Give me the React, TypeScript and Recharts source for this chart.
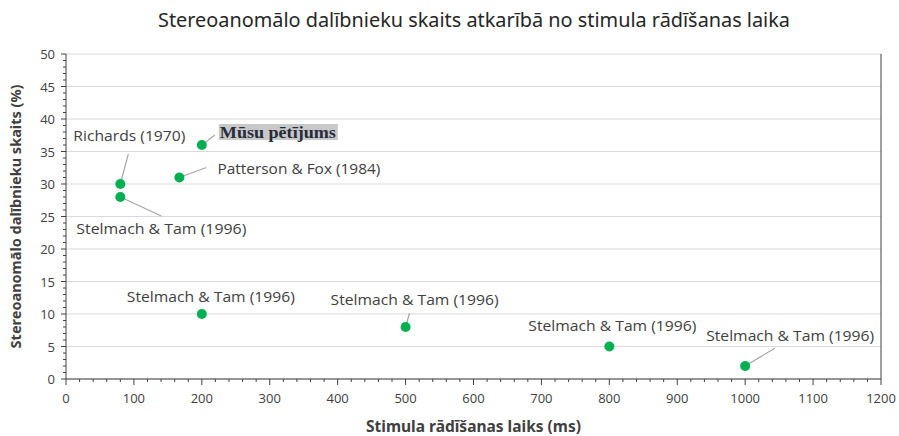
import React from "react";
import {
	ScatterChart,
	Scatter,
	XAxis,
	YAxis,
	ReferenceLine,
	Label,
} from "recharts";

const durations = [80, 80, 167, 200, 200, 500, 800, 1000];
const shares = [30, 28, 31, 36, 10, 8, 5, 2];
const studies = [
	"Richards (1970)",
	"Stelmach & Tam (1996)",
	"Patterson & Fox (1984)",
	"Mūsu pētījums",
	"Stelmach & Tam (1996)",
	"Stelmach & Tam (1996)",
	"Stelmach & Tam (1996)",
	"Stelmach & Tam (1996)",
];

const xMajor = [0, 100, 200, 300, 400, 500, 600, 700, 800, 900, 1000, 1100, 1200];
const yMajor = [0, 5, 10, 15, 20, 25, 30, 35, 40, 45, 50];
const xTicks = Array.from({ length: 61 }, (_, i) => i * 20);
const yTicks = Array.from({ length: 51 }, (_, i) => i);

// label placement relative to each point: text offset, text width, leader line end (null = no leader)
const labelLayout: { dx: number; dy: number; w: number; lead: [number, number] | null }[] = [
	{ dx: -47, dy: -48, w: 112, lead: [8, -30] },
	{ dx: -44, dy: 32, w: 170, lead: [41, 19] },
	{ dx: 38, dy: -9, w: 163, lead: [27, -10] },
	{ dx: 17, dy: -13, w: 116, lead: [13, -10] },
	{ dx: -75, dy: -17, w: 168, lead: null },
	{ dx: -75, dy: -27, w: 168, lead: [4, -14] },
	{ dx: -81, dy: -21, w: 168, lead: null },
	{ dx: -39, dy: -30, w: 168, lead: [30, -18] },
];

const data = durations.map((x, i) => ({ x, y: shares[i], label: studies[i], idx: i }));

const FONT = "'Open Sans', sans-serif";
const TEXT = "#404040";

function XTick(props: any) {
	const { x, y, payload } = props;
	const major = xMajor.includes(payload.value);
	return (
		<g>
			<line x1={x} x2={x} y1={y} y2={y + (major ? 6 : 3)} stroke="#404040" />
			{major && (
				<text x={x} y={y + 24} textAnchor="middle" fontSize={13} fill={TEXT} fontFamily={FONT}>
					{payload.value}
				</text>
			)}
		</g>
	);
}

function YTick(props: any) {
	const { x, y, payload } = props;
	const major = yMajor.includes(payload.value);
	return (
		<g>
			<line x1={x - (major ? 5 : 3)} x2={x} y1={y} y2={y} stroke="#404040" />
			{major && (
				<text x={x - 11} y={y + 5} textAnchor="end" fontSize={13} fill={TEXT} fontFamily={FONT}>
					{payload.value}
				</text>
			)}
		</g>
	);
}

function PointWithLabel(props: any) {
	const { cx, cy, payload } = props;
	const l = labelLayout[payload.idx];
	const own = payload.idx === 3;
	return (
		<g>
			{l.lead && (
				<line x1={cx} y1={cy} x2={cx + l.lead[0]} y2={cy + l.lead[1]} stroke="#a6a6a6" strokeWidth={1.2} />
			)}
			<circle cx={cx} cy={cy} r={5} fill="#00b050" />
			{own ? (
				<g>
					<rect x={cx + l.dx} y={cy + l.dy - 8} width={l.w + 3} height={16} fill="#c8c8c8" />
					<text
						x={cx + l.dx + 1}
						y={cy + l.dy + 6}
						fontSize={17}
						fontWeight="bold"
						fill="#262b3a"
						fontFamily="'Liberation Serif', serif"
						textLength={l.w}
						lengthAdjust="spacingAndGlyphs"
					>
						{payload.label}
					</text>
				</g>
			) : (
				<text
					x={cx + l.dx}
					y={cy + l.dy + 5}
					fontSize={14}
					fill={TEXT}
					fontFamily={FONT}
					textLength={l.w}
					lengthAdjust="spacingAndGlyphs"
				>
					{payload.label}
				</text>
			)}
		</g>
	);
}

export default function App() {
	return (
		<div style={{ position: "absolute", left: 0, top: 0, width: 899, height: 436, background: "#fff" }}>
			<svg width={899} height={40} style={{ position: "absolute", left: 0, top: 0 }}>
				<text
					x={474}
					y={27}
					textAnchor="middle"
					fontFamily="'Noto Sans', sans-serif"
					fontSize={19.5}
					fill="#262626"
					textLength={632}
					lengthAdjust="spacingAndGlyphs"
				>
					Stereoanomālo dalībnieku skaits atkarībā no stimula rādīšanas laika
				</text>
			</svg>
			<ScatterChart width={899} height={436} margin={{ top: 54, right: 18, bottom: 0, left: 26 }}>
				{yMajor.map((v) => (
					<ReferenceLine key={v} y={v} stroke="#d9d9d9" strokeWidth={1} />
				))}
				<ReferenceLine x={1200} stroke="#404040" />
				<XAxis
					type="number"
					dataKey="x"
					domain={[0, 1200]}
					ticks={xTicks}
					interval={0}
					tick={<XTick />}
					tickLine={false}
					tickSize={0}
					tickMargin={0}
					height={57}
					stroke="#404040"
				>
					<Label
						value="Stimula rādīšanas laiks (ms)"
						position="insideBottom"
						offset={4}
						style={{ fontFamily: "'Noto Sans', sans-serif", fontSize: 15.5, fontWeight: "bold", fill: TEXT }}
					/>
				</XAxis>
				<YAxis
					type="number"
					dataKey="y"
					domain={[0, 50]}
					ticks={yTicks}
					interval={0}
					tick={<YTick />}
					tickLine={false}
					tickSize={0}
					tickMargin={0}
					width={40}
					stroke="#404040"
				>
					<Label
						value="Stereoanomālo dalībnieku skaits (%)"
						angle={-90}
						position="insideLeft"
						offset={0}
						dx={-10}
						style={{ textAnchor: "middle", fontFamily: "'Noto Sans', sans-serif", fontSize: 14.5, fontWeight: "bold", fill: TEXT }}
					/>
				</YAxis>
				<Scatter data={data} shape={<PointWithLabel />} isAnimationActive={false} />
			</ScatterChart>
		</div>
	);
}
